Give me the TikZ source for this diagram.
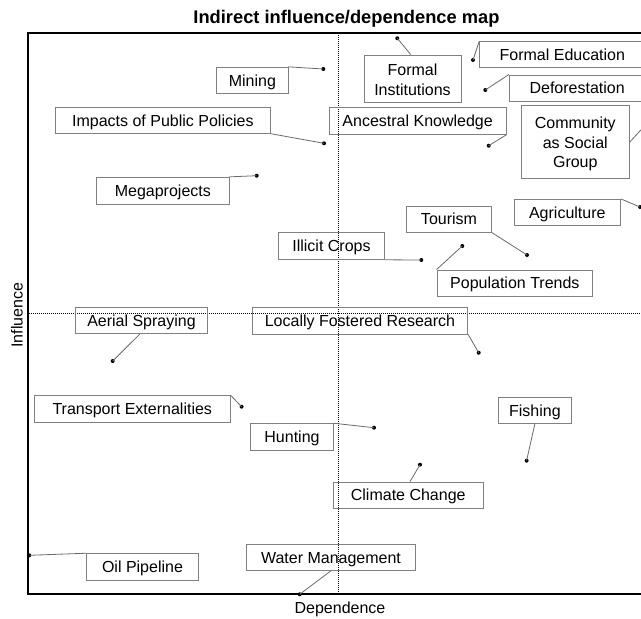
\documentclass[tikz,border=0pt]{standalone}
\usepackage{fontspec}
\setmainfont{Liberation Sans}
\definecolor{boxgray}{HTML}{808080}
\definecolor{lingray}{HTML}{6A6A6A}
\begin{document}
\begin{tikzpicture}[x=1pt,y=-1pt,
  box/.style={draw=boxgray, line width=0.9pt, inner sep=0pt, text height=11.5pt, text depth=0pt, font=\fontsize{16}{19.5}\selectfont},
  emptybox/.style={draw=boxgray, line width=0.9pt, inner sep=0pt},
  linetext/.style={anchor=base, inner sep=0pt, font=\fontsize{16}{19.5}\selectfont},
  dotnode/.style={circle, fill=black, inner sep=0pt, minimum size=4pt},
  conn/.style={draw=lingray, line width=0.8pt},
  axisline/.style={line width=1.8pt, draw=black},
  dotline/.style={line width=0.8pt, dash pattern=on 1pt off 1pt, draw=black}
]
\clip (0,0) rectangle (641,619);
\fill[white] (0,0) rectangle (641,619);

% title and axis labels
\node[anchor=base, inner sep=0pt, font=\bfseries\fontsize{18.3}{20}\selectfont] (title) at (346.5,23) {Indirect influence/dependence map};
\node[anchor=base, inner sep=0pt, font=\fontsize{16}{19}\selectfont] (xlab) at (340,613.5) {Dependence};
\node[anchor=base, rotate=90, inner sep=0pt, font=\fontsize{16}{19}\selectfont] (ylab) at (22.7,315) {Influence};

% frame and quadrant lines
\coordinate (ftl) at (28.3,33.3);
\coordinate (fbr) at (680,593.7);
\draw[axisline] (ftl) rectangle (fbr);
\coordinate (vtop) at (338,33.3);
\coordinate (vbot) at (338,593.7);
\coordinate (hl) at (29,313.7);
\coordinate (hr) at (680,313.7);
\draw[dotline] (vtop) -- (vbot);
\draw[dotline] (hl) -- (hr);

% boxes
\node[box, minimum width=71.3pt, minimum height=26pt] (mining) at (252.35,80.3) {Mining};
\node[box, minimum width=215.7pt, minimum height=26pt] (impacts) at (162.85,120.3) {Impacts of Public Policies};
\node[box, minimum width=132.3pt, minimum height=27pt] (mega) at (162.85,190.8) {Megaprojects};
\node[emptybox, minimum width=97pt, minimum height=47.7pt] (formalinst) at (412.5,78.85) {};
\node[linetext] (fi1) at (412.5,75) {Formal};
\node[linetext] (fi2) at (412.5,95) {Institutions};
\node[box, minimum width=165.3pt, minimum height=25.6pt] (formaled) at (562.35,54.5) {Formal Education};
\node[box, minimum width=135.7pt, minimum height=26.3pt] (defor) at (577.15,88.15) {Deforestation};
\node[box, minimum width=176.7pt, minimum height=27pt] (ancestral) at (417.65,120.8) {Ancestral Knowledge};
\node[emptybox, minimum width=108pt, minimum height=72.6pt] (community) at (575.3,142) {};
\node[linetext] (cs1) at (575.3,128.7) {Community};
\node[linetext] (cs2) at (575.3,148.2) {as Social};
\node[linetext] (cs3) at (575.3,167.7) {Group};
\node[box, minimum width=106pt, minimum height=26pt] (agri) at (567.3,212.3) {Agriculture};
\node[box, minimum width=84.6pt, minimum height=25.7pt] (tourism) at (449,219.2) {Tourism};
\node[box, minimum width=106.4pt, minimum height=27.3pt] (illicit) at (331.5,245.7) {Illicit Crops};
\node[box, minimum width=155.7pt, minimum height=26pt] (poptrends) at (514.85,283) {Population Trends};
\node[box, minimum width=131.6pt, minimum height=26pt] (aerial) at (141.5,320.7) {Aerial Spraying};
\node[box, minimum width=215.4pt, minimum height=26.7pt] (lfr) at (360,320.7) {Locally Fostered Research};
\node[box, minimum width=195.9pt, minimum height=26.3pt] (transport) at (132.25,408.85) {Transport Externalities};
\node[box, minimum width=82.6pt, minimum height=26.6pt] (hunting) at (292,437) {Hunting};
\node[box, minimum width=72.8pt, minimum height=25.6pt] (fishing) at (534.9,410.5) {Fishing};
\node[box, minimum width=149.9pt, minimum height=26.3pt] (climate) at (408.25,495.15) {Climate Change};
\node[box, minimum width=169.4pt, minimum height=26pt] (water) at (331,557.3) {Water Management};
\node[box, minimum width=112.4pt, minimum height=26.6pt] (oil) at (142.5,567) {Oil Pipeline};

% dots
\node[dotnode] (dmining) at (323.3,69) {};
\node[dotnode] (dimpacts) at (324,143.3) {};
\node[dotnode] (dmega) at (256.7,175.7) {};
\node[dotnode] (dformalinst) at (397.3,38.3) {};
\node[dotnode] (dformaled) at (473,60) {};
\node[dotnode] (ddefor) at (485.3,90) {};
\node[dotnode] (dancestral) at (488.7,145.7) {};
\node[dotnode] (dcommunity) at (652,118) {};
\node[dotnode] (dagri) at (640,207) {};
\node[dotnode] (dtourism) at (527,255) {};
\node[dotnode] (dpoptrends) at (462.3,246) {};
\node[dotnode] (dillicit) at (421.3,260) {};
\node[dotnode] (dlfr) at (478.7,352.7) {};
\node[dotnode] (daerial) at (112.7,361) {};
\node[dotnode] (dtransport) at (241.6,406.7) {};
\node[dotnode] (dhunting) at (374,427.7) {};
\node[dotnode] (dfishing) at (526.6,460.7) {};
\node[dotnode] (dclimate) at (420,464.7) {};
\node[dotnode] (dwater) at (299.7,594.3) {};
\node[dotnode] (doil) at (29.3,555.3) {};

% connectors
\draw[conn] (mining.north east) -- (dmining.center);
\draw[conn] (impacts.south east) -- (dimpacts.center);
\draw[conn] (mega.north east) -- (dmega.center);
\draw[conn] ([xshift=-1.8pt]formalinst.north) -- (dformalinst.center);
\draw[conn] (formaled.north west) -- (dformaled.center);
\draw[conn] (defor.north west) -- (ddefor.center);
\draw[conn] (ancestral.south east) -- (dancestral.center);
\draw[conn] (community.east) -- (dcommunity.center);
\draw[conn] (agri.north east) -- (dagri.center);
\draw[conn] (tourism.south east) -- (dtourism.center);
\draw[conn] (poptrends.north west) -- (dpoptrends.center);
\draw[conn] (illicit.south east) -- (dillicit.center);
\draw[conn] (lfr.south east) -- (dlfr.center);
\draw[conn] ([xshift=-1.8pt]aerial.south) -- (daerial.center);
\draw[conn] (transport.north east) -- (dtransport.center);
\draw[conn] (hunting.north east) -- (dhunting.center);
\draw[conn] (fishing.south) -- (dfishing.center);
\draw[conn] ([xshift=1.8pt]climate.north) -- (dclimate.center);
\draw[conn] (water.south) -- (dwater.center);
\draw[conn] (oil.north west) -- (doil.center);
\end{tikzpicture}
\end{document}
